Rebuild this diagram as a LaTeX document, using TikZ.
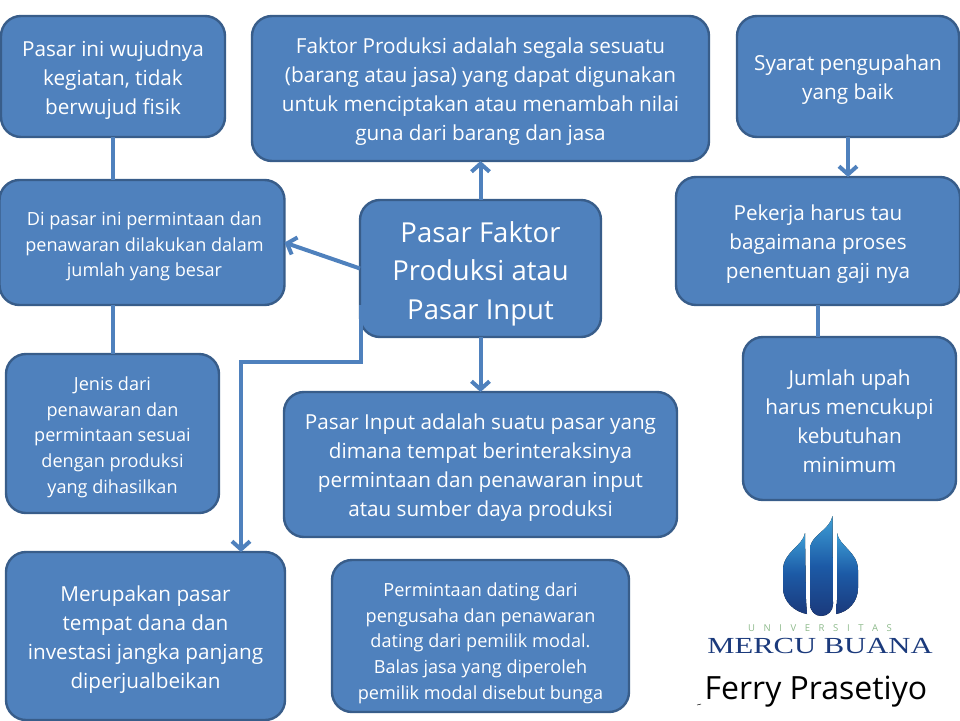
\documentclass[tikz,border=0pt]{standalone}
\usepackage{fontspec}
\setmainfont{Open Sans}
\newfontfamily\logofont{Liberation Serif}
\usetikzlibrary{arrows.meta}
\definecolor{boxfill}{HTML}{4F81BD}
\definecolor{boxline}{HTML}{385D8A}
\definecolor{logonavy}{HTML}{1B3A7C}
\definecolor{logotop}{HTML}{3E9FD6}
\definecolor{logomid}{HTML}{1C5AA6}
\definecolor{logogreen}{HTML}{8CB98A}
\newcommand{\turun}[1]{\rule{0pt}{#1pt}}
\tikzset{
	box/.style={draw=boxline,fill=boxfill,line width=2.4pt,rounded corners=20pt,align=center,text=white,inner sep=0pt,outer sep=0pt},
	big/.style={font=\fontsize{27.5}{38.5}\selectfont},
	mid/.style={font=\fontsize{20.7}{29}\selectfont},
	small/.style={font=\fontsize{18.1}{25.6}\selectfont},
	link/.style={draw=boxfill,line width=4pt},
	petal/.style={top color=logotop,bottom color=logonavy,middle color=logomid,draw=none},
}
\begin{document}
\begin{tikzpicture}[x=1pt,y=-1pt,>={Straight Barb[length=8pt,width=18pt]}]
	\useasboundingbox (0,0) rectangle (960,720);
	\node[box,mid,minimum width=224,minimum height=121] (fisik) at (113,76.5) {\turun{22}Pasar ini wujudnya\\kegiatan, tidak\\berwujud fisik};
	\node[box,mid,minimum width=457,minimum height=145] (faktor) at (480.5,88.5) {\turun{22}Faktor Produksi adalah segala sesuatu\\(barang atau jasa) yang dapat digunakan\\untuk menciptakan atau menambah nilai\\guna dari barang dan jasa};
	\node[box,mid,minimum width=222,minimum height=121] (syarat) at (848,76.5) {\turun{22}Syarat pengupahan\\yang baik};
	\node[box,small,minimum width=285,minimum height=125] (besar) at (142,242.5) {\turun{22}\hspace{5pt}Di pasar ini permintaan dan\\\hspace{5pt}penawaran dilakukan dalam\\\hspace{5pt}jumlah yang besar};
	\node[box,big,minimum width=241,minimum height=137] (pasar) at (480.5,268.5) {\turun{31.5}Pasar Faktor\\Produksi atau\\Pasar Input};
	\node[box,mid,minimum width=284,minimum height=128] (gaji) at (818,241) {\turun{22}Pekerja harus tau\\bagaimana proses\\penentuan gaji nya};
	\node[box,small,minimum width=213,minimum height=159] (jenis) at (112.5,433.5) {\turun{21}Jenis dari\\penawaran dan\\permintaan sesuai\\dengan produksi\\yang dihasilkan};
	\node[box,mid,minimum width=393,minimum height=145] (input) at (480.5,464.5) {\turun{21}Pasar Input adalah suatu pasar yang\\dimana tempat berinteraksinya\\permintaan dan penawaran input\\atau sumber daya produksi};
	\node[box,mid,minimum width=213,minimum height=163] (upah) at (849.5,418.5) {\turun{22}Jumlah upah\\harus mencukupi\\kebutuhan\\minimum};
	\node[box,mid,minimum width=279,minimum height=168] (dana) at (145.5,636) {\turun{22}Merupakan pasar\\tempat dana dan\\investasi jangka panjang\\diperjualbeikan};
	\node[box,small,minimum width=297,minimum height=152] (modal) at (480.5,636) {\turun{28}Permintaan dating dari\\pengusaha dan penawaran\\dating dari pemilik modal.\\Balas jasa yang diperoleh\\pemilik modal disebut bunga};
	\coordinate (pasarkiri) at (360.5,305);
	\coordinate (tekuk) at (241,362);
	\draw[link] (fisik.south)--(fisik.south|-besar.north);
	\draw[link] (fisik.south|-besar.south)--(fisik.south|-jenis.north);
	\draw[link,->] (syarat.south)--(syarat.south|-gaji.north);
	\draw[link] (gaji.south)--(gaji.south|-upah.north);
	\draw[link,->] (pasar.north)--(faktor.south);
	\draw[link,->] (pasar.south)--(input.north);
	\draw[link,->] (pasar.west)--(besar.east);
	\draw[link,->] (pasarkiri)--(pasarkiri|-tekuk)--(tekuk)--(tekuk|-dana.north);
	% logo
	\fill[petal] (805,533) .. controls (803,546) and (783,552) .. (783,570)--(783,588) .. controls (783,602) and (795,612) .. (807,614)--(806,600)--cycle;
	\fill[petal] (837,533) .. controls (839,546) and (858,552) .. (858,570)--(858,588) .. controls (858,602) and (848,612) .. (836,614)--(837,600)--cycle;
	\fill[petal] (832.5,516) .. controls (830,530) and (811,535) .. (810,548)--(810,604) .. controls (810,611) and (815,616) .. (821,616) .. controls (828,616) and (833,611) .. (833,604)--cycle;
	\node[text=logogreen,font=\fontsize{9.5}{12}\selectfont] (univ) at (820,628) {U\hspace{8.6pt}N\hspace{8.6pt}I\hspace{8.6pt}V\hspace{8.6pt}E\hspace{8.6pt}R\hspace{8.6pt}S\hspace{8.6pt}I\hspace{8.6pt}T\hspace{8.6pt}A\hspace{8.6pt}S};
	\node[text=logonavy,font=\logofont\fontsize{23}{26}\selectfont,xscale=1.33] (mercu) at (820,646) {MERCU BUANA};
	\node[text=black,font=\fontsize{32}{36}\selectfont] (nama) at (816,692) {Ferry Prasetiyo};
	\draw[black,line width=0.5pt] (697,705)--(701,704);
\end{tikzpicture}
\end{document}
